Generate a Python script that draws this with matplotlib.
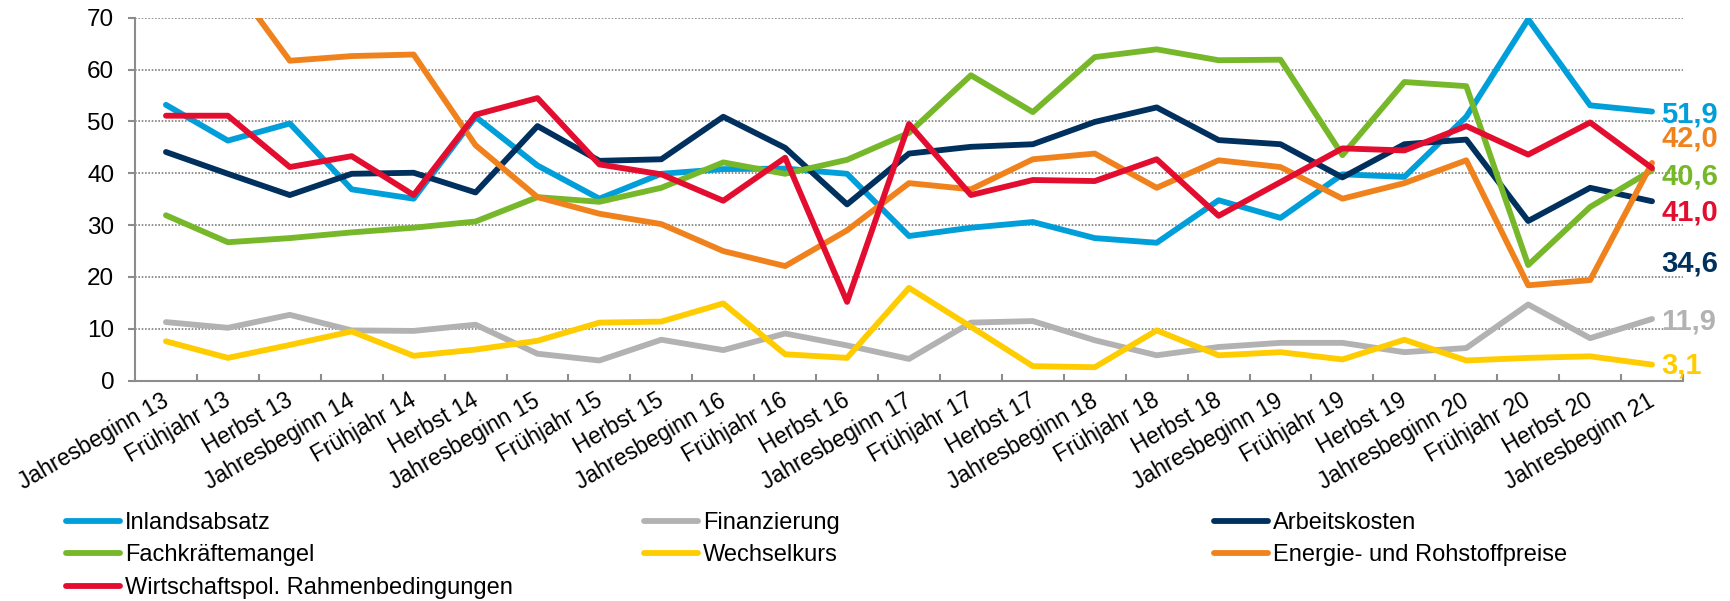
import matplotlib
matplotlib.use("Agg")
import matplotlib.pyplot as plt
import matplotlib.transforms as mtransforms
import numpy as np

plt.rcParams['font.family'] = ['Liberation Sans', 'DejaVu Sans']

categories = [
    "Jahresbeginn 13", "Frühjahr 13", "Herbst 13",
    "Jahresbeginn 14", "Frühjahr 14", "Herbst 14",
    "Jahresbeginn 15", "Frühjahr 15", "Herbst 15",
    "Jahresbeginn 16", "Frühjahr 16", "Herbst 16",
    "Jahresbeginn 17", "Frühjahr 17", "Herbst 17",
    "Jahresbeginn 18", "Frühjahr 18", "Herbst 18",
    "Jahresbeginn 19", "Frühjahr 19", "Herbst 19",
    "Jahresbeginn 20", "Frühjahr 20", "Herbst 20",
    "Jahresbeginn 21",
]

inlandsabsatz = [53.2, 46.3, 49.6, 36.9, 35.1, 50.9, 41.5, 35.1, 39.9, 40.8, 40.9, 39.9, 27.9,
                 29.5, 30.6, 27.5, 26.6, 34.8, 31.4, 39.8, 39.3, 50.9, 69.7, 53.1, 51.9]
finanzierung = [11.3, 10.2, 12.7, 9.7, 9.6, 10.8, 5.2, 3.9, 7.9, 5.9, 9.1, 6.8, 4.2,
                11.2, 11.5, 7.8, 4.9, 6.5, 7.3, 7.3, 5.5, 6.3, 14.7, 8.2, 11.9]
arbeitskosten = [44.1, 39.9, 35.8, 39.9, 40.1, 36.3, 49.1, 42.4, 42.7, 50.9, 44.9, 34.0, 43.8,
                 45.1, 45.6, 49.9, 52.7, 46.4, 45.6, 39.2, 45.6, 46.5, 30.8, 37.2, 34.6]
fachkraefte = [31.9, 26.7, 27.5, 28.6, 29.5, 30.7, 35.4, 34.5, 37.2, 42.1, 39.9, 42.6, 47.8,
               58.9, 51.8, 62.4, 63.9, 61.8, 61.9, 43.5, 57.6, 56.8, 22.3, 33.5, 40.6]
wechselkurs = [7.6, 4.4, 6.9, 9.5, 4.8, 6.0, 7.7, 11.2, 11.4, 14.9, 5.1, 4.4, 17.9,
               10.4, 2.8, 2.6, 9.7, 4.9, 5.5, 4.1, 7.9, 3.9, 4.4, 4.7, 3.1]
energie = [80.0, 78.0, 61.7, 62.6, 62.9, 45.4, 35.4, 32.2, 30.2, 25.0, 22.1, 29.0, 38.1,
           36.9, 42.7, 43.8, 37.2, 42.5, 41.2, 35.1, 38.1, 42.5, 18.4, 19.4, 42.0]
wirtschaftspol = [51.1, 51.1, 41.2, 43.3, 35.8, 51.3, 54.5, 41.7, 39.8, 34.7, 43.0, 15.2, 49.5,
                  35.8, 38.7, 38.5, 42.7, 31.8, 38.3, 44.8, 44.4, 49.1, 43.6, 49.8, 41.0]

series_names = ["Inlandsabsatz", "Finanzierung", "Arbeitskosten", "Fachkräftemangel",
                "Wechselkurs", "Energie- und Rohstoffpreise", "Wirtschaftspol. Rahmenbedingungen"]
series_values = [inlandsabsatz, finanzierung, arbeitskosten, fachkraefte,
                 wechselkurs, energie, wirtschaftspol]
series_colors = ["#009fda", "#b2b2b2", "#00305e", "#76b82a", "#ffcc00", "#f0821e", "#e30d2f"]

# baseline positions of the end labels (layout, data units)
label_baselines = [49.7, 9.8, 21.0, 37.8, 1.4, 45.2, 30.9]

W, H = 1731, 601
fig = plt.figure(figsize=(W / 100, H / 100), dpi=100)
x0, x1, ytop, ybot = 135, 1683, 17.7, 380.7
ax = fig.add_axes([x0 / W, 1 - ybot / H, (x1 - x0) / W, (ybot - ytop) / H])

x = np.arange(len(categories))
lines = []
for name, vals, col in zip(series_names, series_values, series_colors):
    ln, = ax.plot(x, vals, color=col, lw=4.2, solid_joinstyle='round',
                  solid_capstyle='round', label=name)
    lines.append(ln)

ax.set_xlim(-0.5, len(categories) - 0.5)
ax.set_ylim(0, 70)
ax.set_yticks(np.arange(0, 71, 10))
ax.yaxis.grid(True, linestyle=(0, (1, 1)), color='#808080', linewidth=1.2)
ax.set_axisbelow(True)

for s in ['top', 'right']:
    ax.spines[s].set_visible(False)
for s in ['left', 'bottom']:
    ax.spines[s].set_color('#8c8c8c')
    ax.spines[s].set_linewidth(1.5)

ax.set_xticks(x)
ax.set_xticklabels(categories, fontsize=16.5)
ax.set_xticks(np.arange(0.5, len(categories), 1), minor=True)
ax.tick_params(axis='x', which='major', length=0, pad=6)
ax.tick_params(axis='x', which='minor', direction='in', length=5, width=1.5, color='#8c8c8c')
shift = mtransforms.ScaledTranslation(-5 / 100, 0, fig.dpi_scale_trans)
for lbl in ax.get_xticklabels():
    lbl.set_rotation(30)
    lbl.set_ha('right')
    lbl.set_va('top')
    lbl.set_rotation_mode('anchor')
    lbl.set_transform(lbl.get_transform() + shift)
ax.tick_params(axis='y', which='major', direction='out', length=5, width=1.5,
               color='#8c8c8c', labelsize=17.5, pad=10)

# end labels
for vals, col, yb in zip(series_values, series_colors, label_baselines):
    txt = f"{vals[-1]:.1f}".replace('.', ',')
    ax.annotate(txt, xy=(x[-1], yb), xytext=(6.5, 0), textcoords='offset points',
                ha='left', va='baseline', fontsize=21, fontweight='bold', color=col,
                annotation_clip=False)

# legends (three columns)
cols = [[0, 3, 6], [1, 4], [2, 5]]
col_x = [66, 644, 1214]
for idxs, cx in zip(cols, col_x):
    fig.legend(handles=[lines[i] for i in idxs], labels=[series_names[i] for i in idxs],
               loc='upper left', bbox_to_anchor=(cx / W, 1 - 512 / H), frameon=False,
               fontsize=17, handlelength=2.3, handletextpad=0.2, labelspacing=0.44,
               borderpad=0, borderaxespad=0)

fig.savefig("out.png", dpi=100)
